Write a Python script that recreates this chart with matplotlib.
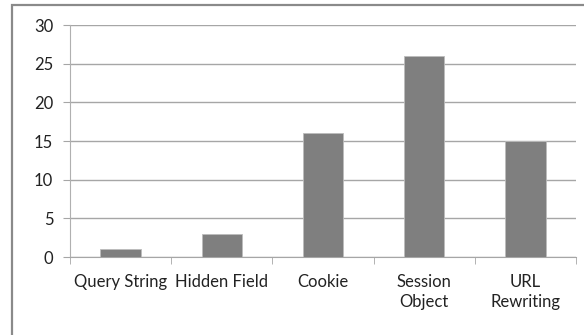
import matplotlib.pyplot as plt
from matplotlib.patches import Rectangle

# datos
categorias = ["Query String", "Hidden Field", "Cookie", "Session\nObject", "URL\nRewriting"]
valores = [1, 3, 16, 26, 15]
ticks_y = [0, 5, 10, 15, 20, 25, 30]

plt.rcParams['font.family'] = ['Lato', 'DejaVu Sans']

fig = plt.figure(figsize=(5.84, 3.35), dpi=100)
ax = fig.add_axes([70 / 584, 1 - 257 / 335, 506 / 584, 232 / 335])

# marco exterior
fig.patches.append(Rectangle((12 / 584, -0.05), 1.2, 0.05 + (335 - 5) / 335,
                             transform=fig.transFigure, fill=False,
                             edgecolor="#8a8a8a", linewidth=1.6))

x = list(range(len(categorias)))
ax.bar(x, valores, width=0.4, color="#7f7f7f", edgecolor="#bcbcbc", linewidth=0.6, zorder=3)

ax.set_xlim(-0.5, len(categorias) - 0.5)
ax.set_ylim(0, 30)
ax.set_yticks(ticks_y)
ax.yaxis.grid(True, color="#a6a6a6", linewidth=1.0, zorder=0)

for lado in ["top", "right"]:
    ax.spines[lado].set_visible(False)
ax.spines["left"].set_color("#b0b0b0")
ax.spines["bottom"].set_color("#a6a6a6")

ax.set_xticks(x)
ax.set_xticklabels(categorias, fontsize=12, color="#222222", linespacing=1.3)
ax.tick_params(axis="x", length=0, pad=12)
ax.set_xticks([i - 0.5 for i in range(len(categorias) + 1)], minor=True)
ax.tick_params(axis="x", which="minor", length=5, color="#a6a6a6", direction="out")
ax.tick_params(axis="y", length=5, color="#a6a6a6", labelsize=12, labelcolor="#222222", pad=7)

fig.savefig("out.png", dpi=100)
